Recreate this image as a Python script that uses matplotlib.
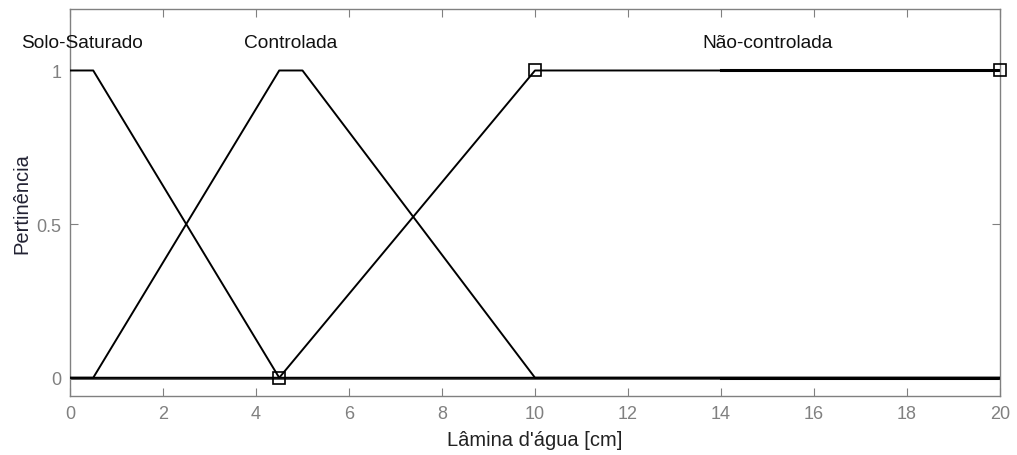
import matplotlib
matplotlib.use("Agg")
import matplotlib.pyplot as plt
import numpy as np

plt.rcParams["font.family"] = ["Liberation Sans", "DejaVu Sans"]

# funções de pertinência (pontos de quebra, cm)
solo_x = [0, 0.5, 4.5, 20]
solo_y = [1, 1, 0, 0]
ctrl_x = [0, 0.5, 4.5, 5.0, 10, 20]
ctrl_y = [0, 0, 1, 1, 0, 0]
ncon_x = [0, 4.5, 10, 20]
ncon_y = [0, 0, 1, 1]

names = ["Solo-Saturado", "Controlada", "Não-controlada"]
name_x = [0.25, 4.75, 15]
name_y = 1.09

mark_x = [4.5, 10, 20]
mark_y = [0, 1, 1]

xticks = [0, 2, 4, 6, 8, 10, 12, 14, 16, 18, 20]
yticks = [0, 0.5, 1]
ytick_labels = ["0", "0.5", "1"]

grey = "#808080"

fig = plt.figure(figsize=(10.17, 4.56), dpi=100)
ax = fig.add_axes([0.0688, 0.129, 0.9145, 0.849])

ax.plot(ncon_x, ncon_y, color="black", lw=1.4, zorder=3)
ax.plot(ctrl_x, ctrl_y, color="black", lw=1.4, zorder=3)
ax.plot(solo_x, solo_y, color="black", lw=1.4, zorder=3)
# linha de base mais escura
ax.plot([0, 14], [0, 0], color="#444444", lw=2.0, zorder=2)
ax.plot([14, 20], [0, 0], color="black", lw=2.2, zorder=2)
ax.plot([14, 20], [1, 1], color="black", lw=2.2, zorder=2)

ax.plot(mark_x, mark_y, ls="none", marker="s", ms=8, mfc="none",
        mec="black", mew=1.2, zorder=4, clip_on=False)

for n, x in zip(names, name_x):
    ax.text(x, name_y, n, ha="center", va="center", fontsize=13.8, color="#111111")

ax.set_xlim(0, 20)
ax.set_ylim(-0.06, 1.2)
ax.set_xticks(xticks)
ax.set_yticks(yticks)
ax.set_yticklabels(ytick_labels)
ax.tick_params(direction="in", length=6, color=grey, labelcolor=grey,
               labelsize=13, top=True, right=True, pad=6)
for s in ax.spines.values():
    s.set_color(grey)
    s.set_linewidth(1.0)

ax.set_xlabel("Lâmina d'água [cm]", fontsize=14.5, color="#222222", labelpad=6)
ax.set_ylabel("Pertinência", fontsize=14.5, color="#222233", labelpad=4)

fig.savefig("out.png", dpi=100)
